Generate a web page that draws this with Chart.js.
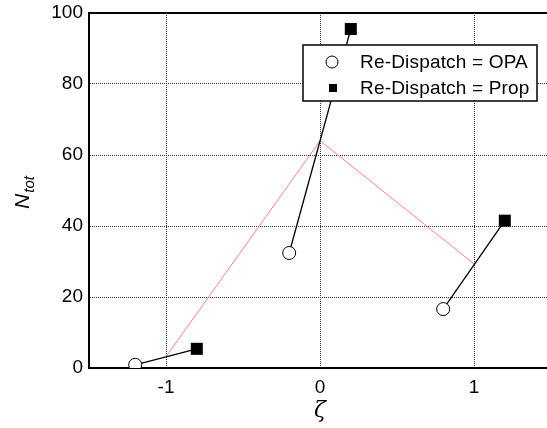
<!DOCTYPE html>
<html>
<head>
<meta charset="utf-8">
<script src="https://cdn.jsdelivr.net/npm/chart.js@4/dist/chart.umd.min.js"></script>
<style>
  body { margin: 0; background: #fff; }
  canvas { display: block; }
</style>
</head>
<body>
<canvas id="chart" width="547" height="428"></canvas>
<script>
// values
const xOPA = [-1.2, -0.2, 0.8];
const yOPA = [0.9, 32.4, 16.6];
const xProp = [-0.8, 0.2, 1.2];
const yProp = [5.4, 95.5, 41.5];
const xMean = [-1, 0, 1];
const yMean = [3.2, 64.0, 29.3];
const xTicks = [-1, 0, 1];
const yTicks = [0, 20, 40, 60, 80, 100];
const legendLabels = ['Re-Dispatch = OPA', 'Re-Dispatch = Prop'];

const pts = (xs, ys) => xs.map((x, i) => ({ x: x, y: ys[i] }));

const datasets = [];
datasets.push({
  label: 'mean',
  data: pts(xMean, yMean),
  showLine: true,
  borderColor: '#ff8080',
  borderWidth: 1,
  pointRadius: 0,
  order: 5
});
xOPA.forEach((x, i) => {
  datasets.push({
    label: 'pair' + i,
    data: [{ x: x, y: yOPA[i] }, { x: xProp[i], y: yProp[i] }],
    showLine: true,
    borderColor: '#000',
    borderWidth: 1.3,
    pointRadius: 0,
    order: 4
  });
});
datasets.push({
  label: legendLabels[0],
  data: pts(xOPA, yOPA),
  pointStyle: 'circle',
  pointRadius: 6.5,
  backgroundColor: '#fff',
  borderColor: '#000',
  borderWidth: 1,
  order: 1
});
datasets.push({
  label: legendLabels[1],
  data: pts(xProp, yProp),
  pointStyle: 'rect',
  pointRadius: 8.5,
  backgroundColor: '#000',
  borderColor: '#000',
  borderWidth: 0,
  order: 2
});

const extras = {
  id: 'extras',
  afterDraw(chart) {
    const ctx = chart.ctx;
    const a = chart.chartArea;
    ctx.save();
    // top frame line
    ctx.strokeStyle = '#000';
    ctx.lineWidth = 2;
    ctx.beginPath();
    ctx.moveTo(a.left, a.top);
    ctx.lineTo(a.right, a.top);
    ctx.stroke();

    // legend box
    ctx.fillStyle = '#fff';
    ctx.fillRect(303, 45, 234, 56);
    ctx.lineWidth = 1.5;
    ctx.strokeRect(303, 45, 234, 56);
    ctx.beginPath();
    ctx.arc(332, 62, 6, 0, Math.PI * 2);
    ctx.lineWidth = 1;
    ctx.stroke();
    ctx.fillStyle = '#000';
    ctx.fillRect(329, 84, 8, 8);
    ctx.font = '19px "Liberation Sans", Arial, sans-serif';
    ctx.letterSpacing = '0px';
    // stretch the legend text to the width seen in the picture
    const tw = ctx.measureText(legendLabels[0]).width;
    const gap = Math.max(0, (168 - tw) / legendLabels[0].length);
    ctx.letterSpacing = gap.toFixed(2) + 'px';
    ctx.textBaseline = 'middle';
    ctx.textAlign = 'left';
    ctx.fillText(legendLabels[0], 360, 63);
    ctx.fillText(legendLabels[1], 360, 89);
    ctx.letterSpacing = '0px';

    // axis titles
    ctx.font = 'italic 22px "DejaVu Serif", serif';
    ctx.textAlign = 'center';
    ctx.textBaseline = 'alphabetic';
    ctx.fillText('\u03B6', 320, 417);

    ctx.translate(29, 193);
    ctx.rotate(-Math.PI / 2);
    ctx.textAlign = 'left';
    ctx.font = 'italic 21px "Liberation Sans", Arial, sans-serif';
    const w = ctx.measureText('N').width;
    ctx.font = 'italic 15px "Liberation Sans", Arial, sans-serif';
    const w2 = ctx.measureText('tot').width;
    const x0 = -(w + w2) / 2;
    ctx.font = 'italic 21px "Liberation Sans", Arial, sans-serif';
    ctx.fillText('N', x0, 0);
    ctx.font = 'italic 15px "Liberation Sans", Arial, sans-serif';
    ctx.fillText('tot', x0 + w + 1, 5);
    ctx.restore();
  }
};

new Chart(document.getElementById('chart'), {
  type: 'scatter',
  data: { datasets: datasets },
  plugins: [extras],
  options: {
    responsive: false,
    animation: false,
    devicePixelRatio: 1,
    layout: { autoPadding: false, padding: { top: 13, right: 0, bottom: 0, left: 0 } },
    plugins: { legend: { display: false }, tooltip: { enabled: false } },
    scales: {
      x: {
        type: 'linear',
        min: -1.5,
        max: 1.474,
        afterBuildTicks: (s) => { s.ticks = xTicks.map(v => ({ value: v })); },
        afterFit: (s) => { s.height = 60; s.paddingLeft = 0; s.paddingRight = 0; },
        ticks: {
          color: '#000',
          padding: 8,
          font: { family: '"Liberation Sans", Arial, sans-serif', size: 19 }
        },
        grid: { color: '#333', lineWidth: 1, drawTicks: false },
        border: { color: '#000', width: 2, dash: [1, 1] }
      },
      y: {
        min: 0,
        max: 100,
        afterBuildTicks: (s) => { s.ticks = yTicks.map(v => ({ value: v })); },
        afterFit: (s) => { s.width = 89; s.paddingTop = 0; s.paddingBottom = 0; },
        ticks: {
          color: '#000',
          padding: 6,
          font: { family: '"Liberation Sans", Arial, sans-serif', size: 19 }
        },
        grid: { color: '#333', lineWidth: 1, drawTicks: false },
        border: { color: '#000', width: 2, dash: [1, 1] }
      }
    }
  }
});
</script>
</body>
</html>
